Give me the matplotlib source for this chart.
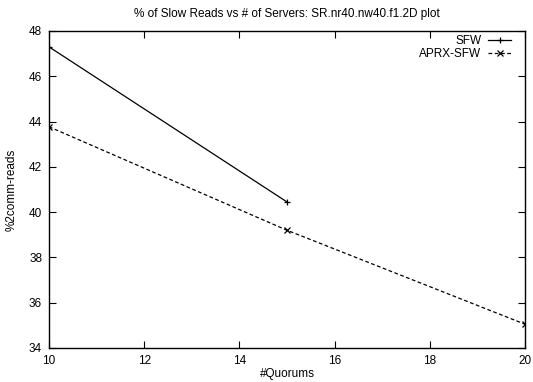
import matplotlib
matplotlib.use("Agg")
import matplotlib.pyplot as plt

plt.rcParams['font.family'] = ['Liberation Sans', 'DejaVu Sans']

sfw_x = [10, 15]
sfw_y = [47.3, 40.45]
aprx_x = [10, 15, 20]
aprx_y = [43.77, 39.2, 35.05]
xticks = [10, 12, 14, 16, 18, 20]
yticks = [34, 36, 38, 40, 42, 44, 46, 48]

fig = plt.figure(figsize=(5.33, 3.82), dpi=100)
ax = fig.add_axes([49/533, 1-348/382, 476/533, 317/382])

ax.plot(sfw_x, sfw_y, color='black', lw=0.9, marker='+', ms=5, mew=0.9, label='SFW')
ax.plot(aprx_x, aprx_y, color='black', lw=0.9, ls=(0, (3, 2)), marker='x', ms=4, mew=0.9, label='APRX-SFW')

ax.set_xlim(10, 20)
ax.set_ylim(34, 48)
ax.set_xticks(xticks)
ax.set_yticks(yticks)
ax.tick_params(direction='in', top=True, right=True, length=5, width=0.8, labelsize=8.5, pad=5)
for s in ax.spines.values():
    s.set_linewidth(1.0)

ax.set_xlabel('#Quorums', fontsize=8.5, labelpad=1)
ax.set_ylabel('%2comm-reads', fontsize=8.5, labelpad=8)
ax.set_title('% of Slow Reads vs # of Servers: SR.nr40.nw40.f1.2D plot', fontsize=8.5, pad=10)

leg = ax.legend(loc='upper right', frameon=False, markerfirst=False, fontsize=8.5,
                handlelength=1.9, handletextpad=0.6, labelspacing=0.1, borderaxespad=0.3,
                bbox_to_anchor=(1 - 6/476, 1 + 4/317))

fig.savefig('out.png', dpi=100)
